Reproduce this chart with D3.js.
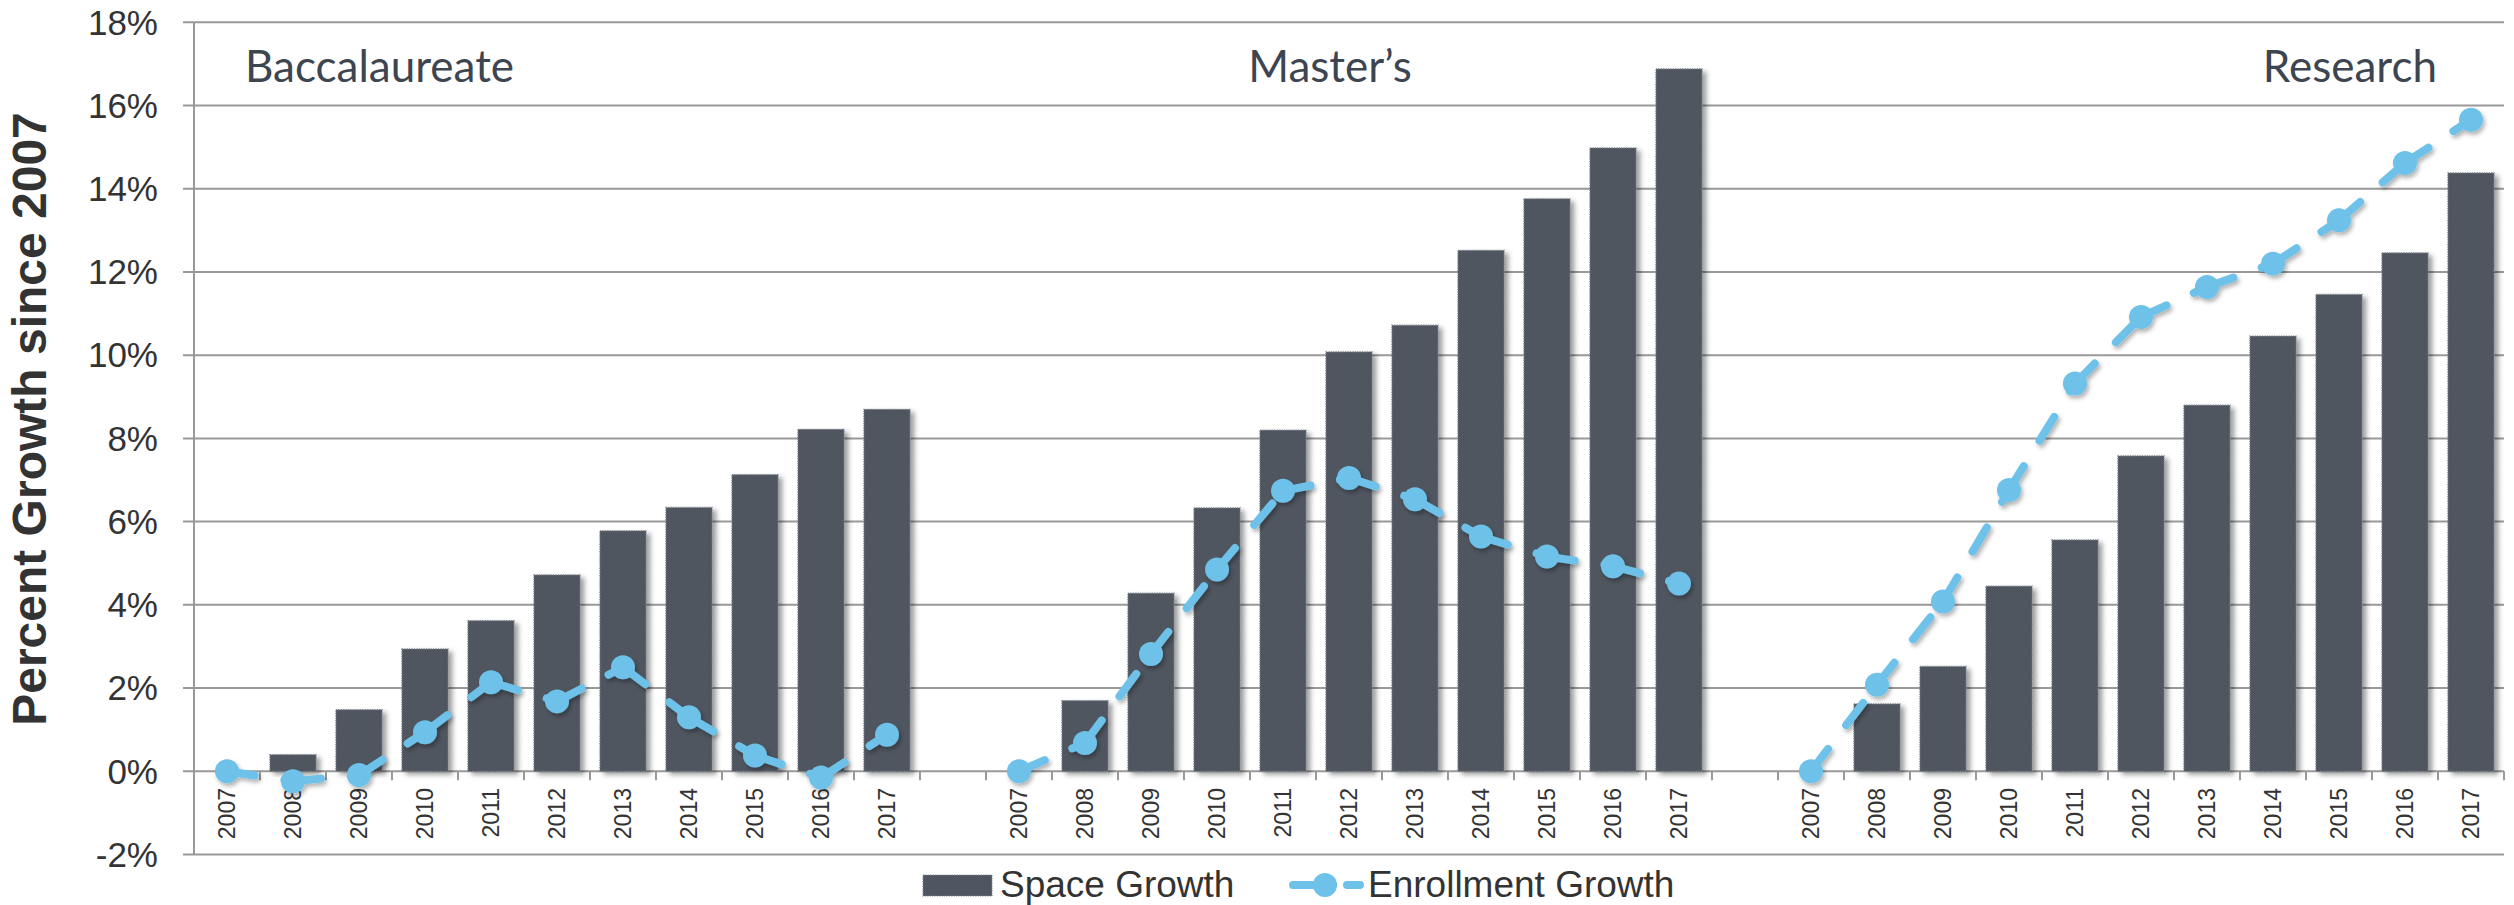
<!DOCTYPE html>
<html lang="en">
<head>
<meta charset="UTF-8">
<title>Space vs Enrollment Growth</title>
<script src="https://d3js.org/d3.v7.min.js"></script>
<style>
    body { margin: 0; background: #fff; }
    svg { display: block; font-family: "Liberation Sans", Arial, sans-serif; }
    .tick-label { font-size: 35px; fill: #333; }
    .year-label { font-size: 23px; fill: #333; }
    .group-title { font-family: Lato, "Open Sans", sans-serif; font-size: 44px; fill: #3d4550; }
    .legend-text { font-size: 37px; fill: #333; }
</style>
</head>
<body>
<div id="chart"></div>
<script>
// chart values (percent growth since 2007)
var years = [2007, 2008, 2009, 2010, 2011, 2012, 2013, 2014, 2015, 2016, 2017];
var groups = ["Baccalaureate", "Master’s", "Research"];
var yTicks = [-2, 0, 2, 4, 6, 8, 10, 12, 14, 16, 18];

var spaceBacc     = [0, 0.40, 1.48, 2.94, 3.62, 4.72, 5.78, 6.34, 7.13, 8.22, 8.70];
var enrollBacc    = [0, -0.24, -0.09, 0.94, 2.14, 1.68, 2.50, 1.30, 0.38, -0.15, 0.88];
var spaceMasters  = [0, 1.70, 4.28, 6.33, 8.20, 10.08, 10.72, 12.52, 13.76, 14.98, 16.88];
var enrollMasters = [0, 0.68, 2.82, 4.85, 6.74, 7.05, 6.54, 5.64, 5.16, 4.93, 4.51];
var spaceResearch = [0, 1.62, 2.52, 4.45, 5.56, 7.58, 8.80, 10.46, 11.46, 12.46, 14.38];
var enrollResearch = [0, 2.08, 4.08, 6.76, 9.32, 10.92, 11.64, 12.20, 13.24, 14.62, 15.66];

var legendLabels = ["Space Growth", "Enrollment Growth"];
var yTitle = "Percent Growth since 2007";

var spaceByGroup = [spaceBacc, spaceMasters, spaceResearch];
var enrollByGroup = [enrollBacc, enrollMasters, enrollResearch];

var W = 2514, H = 905;
var plotLeft = 194, plotRight = 2504, plotTop = 22.3, plotBottom = 854.5;
var barColor = "#4f5661";
var lineColor = "#6ec1e8";
var gridColor = "#999";

// one slot per year, with an empty slot between groups
var slots = [];
groups.forEach(function(g, gi) {
    years.forEach(function(y) { slots.push(g + "|" + y); });
    if (gi < groups.length - 1) slots.push("gap" + gi);
});

var x = d3.scaleBand()
    .domain(slots)
    .range([plotLeft, plotRight])
    .paddingInner(0.3)
    .paddingOuter(0.15);

var y = d3.scaleLinear()
    .domain([-2, 18])
    .range([plotBottom, plotTop]);

var svg = d3.select("#chart").append("svg")
    .attr("width", W)
    .attr("height", H);

var defs = svg.append("defs");
var f = defs.append("filter").attr("id", "shadow")
    .attr("x", "-20%").attr("y", "-20%").attr("width", "150%").attr("height", "150%");
f.append("feDropShadow")
    .attr("dx", 4).attr("dy", 3)
    .attr("stdDeviation", 2.5)
    .attr("flood-color", "#000")
    .attr("flood-opacity", 0.38);

var f2 = defs.append("filter").attr("id", "shadow2")
    .attr("x", "-50%").attr("y", "-50%").attr("width", "200%").attr("height", "200%");
f2.append("feDropShadow")
    .attr("dx", 2).attr("dy", 3)
    .attr("stdDeviation", 2)
    .attr("flood-color", "#000")
    .attr("flood-opacity", 0.3);

// gridlines
svg.append("g")
    .selectAll("line")
    .data(yTicks)
    .enter().append("line")
    .attr("x1", plotLeft - 11)
    .attr("x2", plotRight)
    .attr("y1", d => y(d))
    .attr("y2", d => y(d))
    .attr("stroke", gridColor)
    .attr("stroke-width", 2);

// y axis line
svg.append("line")
    .attr("x1", plotLeft).attr("x2", plotLeft)
    .attr("y1", y(18)).attr("y2", y(-2))
    .attr("stroke", gridColor)
    .attr("stroke-width", 2);

// y tick labels
svg.append("g")
    .selectAll("text")
    .data(yTicks)
    .enter().append("text")
    .attr("class", "tick-label")
    .attr("x", 158)
    .attr("y", d => y(d))
    .attr("dy", "0.35em")
    .attr("text-anchor", "end")
    .text(d => d + "%");

// x ticks at slot boundaries
var step = x.step();
var bounds = slots.map(s => x(s) - (step - x.bandwidth()) / 2);
bounds.push(plotRight);
svg.append("g")
    .selectAll("line")
    .data(bounds)
    .enter().append("line")
    .attr("x1", d => d).attr("x2", d => d)
    .attr("y1", y(0)).attr("y2", y(0) + 9)
    .attr("stroke", gridColor)
    .attr("stroke-width", 2);

// bars
var barData = [];
groups.forEach(function(g, gi) {
    years.forEach(function(yr, i) {
        barData.push({ key: g + "|" + yr, value: spaceByGroup[gi][i] });
    });
});

svg.append("g")
    .selectAll("rect")
    .data(barData.filter(d => d.value > 0))
    .enter().append("rect")
    .attr("x", d => x(d.key))
    .attr("width", x.bandwidth())
    .attr("y", d => y(d.value))
    .attr("height", d => y(0) - y(d.value))
    .attr("fill", barColor)
    .attr("stroke", "#80868f")
    .attr("stroke-width", 1.2)
    .attr("stroke-dasharray", "1.2,1.2")
    .attr("filter", "url(#shadow)");

// year labels
svg.append("g")
    .selectAll("text")
    .data(barData)
    .enter().append("text")
    .attr("class", "year-label")
    .attr("text-anchor", "end")
    .attr("dy", "0.35em")
    .attr("transform", d => `translate(${x(d.key) + x.bandwidth() / 2},788) rotate(-90)`)
    .text(d => d.key.split("|")[1]);

// enrollment line: each segment starts its own dash pattern, like the original
var line = d3.line().x(d => d[0]).y(d => d[1]);
var lineG = svg.append("g").attr("filter", "url(#shadow2)");
groups.forEach(function(g, gi) {
    var pts = years.map((yr, i) => [x(g + "|" + yr) + x.bandwidth() / 2, y(enrollByGroup[gi][i])]);
    for (var i = 0; i < pts.length - 1; i++) {
        lineG.append("path")
            .attr("d", line([pts[i], pts[i + 1]]))
            .attr("fill", "none")
            .attr("stroke", lineColor)
            .attr("stroke-width", 8)
            .attr("stroke-linecap", "round")
            .attr("stroke-dasharray", "28,30");
    }
    lineG.append("g")
        .selectAll("circle")
        .data(pts)
        .enter().append("circle")
        .attr("cx", d => d[0])
        .attr("cy", d => d[1])
        .attr("r", 12)
        .attr("fill", lineColor);
});

// group titles
var titlePos = [
    { x: 245, anchor: "start" },
    { x: 1330, anchor: "middle" },
    { x: 2437, anchor: "end" }
];
svg.append("g")
    .selectAll("text")
    .data(groups)
    .enter().append("text")
    .attr("class", "group-title")
    .attr("x", (d, i) => titlePos[i].x)
    .attr("y", 82)
    .attr("text-anchor", (d, i) => titlePos[i].anchor)
    .text(d => d);

// y axis title
svg.append("text")
    .attr("transform", "translate(46,419) rotate(-90)")
    .attr("text-anchor", "middle")
    .style("font-size", "48px")
    .style("font-weight", "bold")
    .style("fill", "#333")
    .text(yTitle);

// legend
var lg = svg.append("g");
lg.append("rect")
    .attr("x", 923).attr("y", 875)
    .attr("width", 69).attr("height", 21)
    .attr("fill", barColor)
    .attr("stroke", "#80868f")
    .attr("stroke-width", 1.2)
    .attr("stroke-dasharray", "1.2,1.2");
lg.append("text")
    .attr("class", "legend-text")
    .attr("x", 1000).attr("y", 897)
    .text(legendLabels[0]);
lg.append("path")
    .attr("d", line([[1293, 885], [1360, 885]]))
    .attr("stroke", lineColor)
    .attr("stroke-width", 8)
    .attr("stroke-linecap", "round")
    .attr("stroke-dasharray", "40,14");
lg.append("circle")
    .attr("cx", 1325).attr("cy", 885)
    .attr("r", 12)
    .attr("fill", lineColor);
lg.append("text")
    .attr("class", "legend-text")
    .attr("x", 1368).attr("y", 897)
    .text(legendLabels[1]);
</script>
</body>
</html>
